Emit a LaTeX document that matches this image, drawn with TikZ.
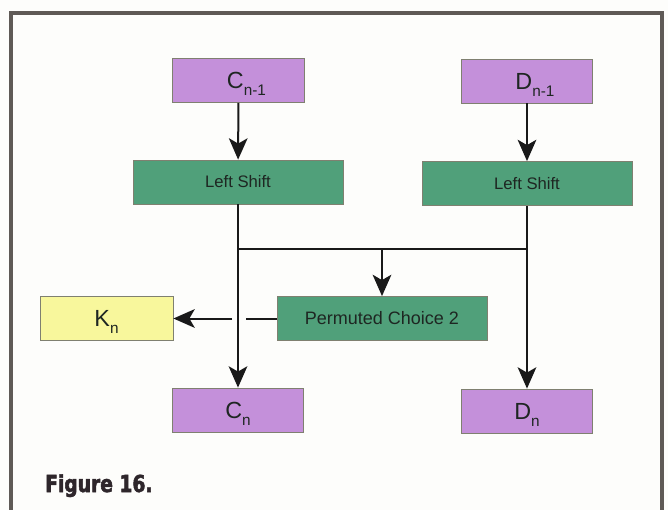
\documentclass[tikz,border=0pt]{standalone}
\usepackage{fontspec}
\setmainfont{Liberation Sans}
\newfontfamily\capfont{DejaVu Sans}[FakeStretch=0.8,BoldFeatures={FakeBold=2.2}]
\usetikzlibrary{arrows.meta}
\definecolor{bgc}{HTML}{FDFDFB}
\definecolor{framec}{HTML}{5F5A56}
\definecolor{purplebox}{HTML}{C490DA}
\definecolor{greenbox}{HTML}{50A07A}
\definecolor{yellowbox}{HTML}{F8F79C}
\definecolor{boxline}{HTML}{7F8070}
\definecolor{txtc}{HTML}{1E2622}
\definecolor{capc}{HTML}{2E262B}
\newcommand\sublbl[2]{#1\raisebox{-5.5pt}[0pt][0pt]{\fontsize{11.5}{12}\selectfont #2}}
\begin{document}
\begin{tikzpicture}[x=0.75pt,y=-0.75pt,
  box/.style={draw=boxline, line width=0.6pt, inner sep=0pt, text=txtc, anchor=center},
  regbox/.style={box, fill=purplebox, minimum width=98.5pt, minimum height=33pt, font=\fontsize{17.5}{19}\selectfont},
  opbox/.style={box, fill=greenbox, minimum width=157.5pt, minimum height=33pt},
  keybox/.style={box, fill=yellowbox, minimum width=99.75pt, minimum height=33pt, font=\fontsize{17.5}{19}\selectfont},
  flow/.style={line width=1.5pt, draw=black!90},
  arr/.style={flow, -{Stealth[length=16pt, width=14pt, inset=4pt]}}
]
\useasboundingbox[fill=bgc] (0,0) rectangle (668,510);
% frame
\draw[framec, line width=2.3pt] (11,510) -- (11,13) -- (662,13) -- (662,510);

% nodes
\node[regbox] (cn1) at (238.5,80.5) {\hspace*{12pt}\sublbl{C}{n-1}};
\node[regbox] (dn1) at (527,81) {\hspace*{12pt}\sublbl{D}{n-1}};
\node[opbox, font=\fontsize{12.5}{14}\selectfont] (ls1) at (238,182) {Left Shift};
\node[opbox, font=\fontsize{12.5}{14}\selectfont] (ls2) at (527,183.5) {Left Shift};
\node[opbox, font=\fontsize{13.5}{15}\selectfont] (pc2) at (382,318.5) {Permuted Choice 2};
\node[keybox] (kn) at (106.5,318.5) {\sublbl{K}{n}};
\node[regbox] (cn) at (238,410) {\sublbl{C}{n}};
\node[regbox] (dn) at (527,411) {\sublbl{D}{n}};

% junction coordinates
\coordinate (jl) at (238,249);
\coordinate (jm) at (382,249);
\coordinate (jr) at (527,249);
\coordinate (gapr) at (246,318.5);
\coordinate (gapl) at (232,318.5);

% connectors
\draw[arr] (cn1) -- (ls1);
\draw[arr] (dn1) -- (ls2);
\draw[arr] (ls1) -- (cn);
\draw[arr] (ls2) -- (dn);
\draw[flow] (jl) -- (jr);
\draw[arr] (jm) -- (pc2);
\draw[flow] (pc2.west) -- (gapr);
\draw[arr] (gapl) -- (kn.east);

% caption
\node[anchor=base west, inner sep=0pt, text=capc, font=\capfont\bfseries\fontsize{17.5}{19}\selectfont] (cap) at (45,492) {Figure 16.};
\end{tikzpicture}
\end{document}
